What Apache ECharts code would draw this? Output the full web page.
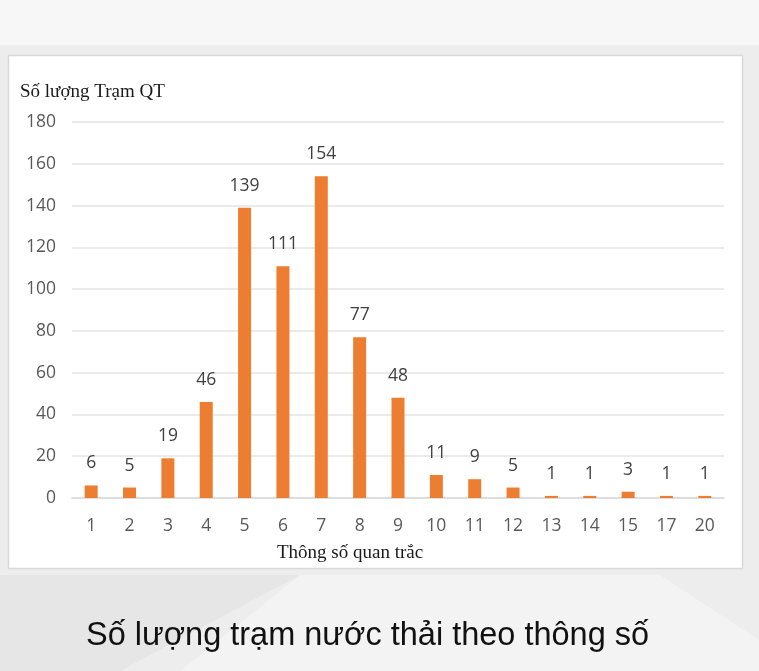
<!DOCTYPE html>
<html><head><meta charset="utf-8">
<script src="https://cdn.jsdelivr.net/npm/echarts@6/dist/echarts.min.js"></script>
<style>html,body{margin:0;padding:0;}#c{width:759px;height:671px;}</style>
</head><body><div id="c"></div>
<script>
var categories = ['1','2','3','4','5','6','7','8','9','10','11','12','13','14','15','17','20'];
var stationCounts = [6,5,19,46,139,111,154,77,48,11,9,5,1,1,3,1,1];
var yTicks = [0,20,40,60,80,100,120,140,160,180];

var chart = echarts.init(document.getElementById('c'));
chart.setOption({
  backgroundColor: '#ededed',
  animation: false,
  graphic: [
    {type:'polygon', z:-10, shape:{points:[[0,0],[759,0],[759,45],[0,45]]}, style:{fill:'#f7f7f7'}},
    {type:'polygon', z:-9, shape:{points:[[0,575],[300,575],[120,671],[0,671]]}, style:{fill:'#e6e6e6'}},
    {type:'polygon', z:-9, shape:{points:[[300,575],[660,575],[759,640],[759,671],[180,671]]}, style:{fill:'#f3f3f3'}},
    {type:'rect', z:-5, shape:{x:8.5,y:55.5,width:734,height:513}, style:{fill:'#ffffff', stroke:'#d9d9d9', lineWidth:1.5}},
    {type:'text', left:20, top:83, style:{text:'Số lượng Trạm QT', font:'19px "Liberation Serif"', fill:'#1a1a1a'}},
    {type:'text', left:277, top:544, style:{text:'Thông số quan trắc', font:'19px "Liberation Serif"', fill:'#1a1a1a'}},
    {type:'text', left:86, top:620, style:{text:'Số lượng trạm nước thải theo thông số', font:'32.5px "Liberation Sans"', fill:'#111111'}}
  ],
  grid: {left:72, right:35, top:122, bottom:173},
  xAxis: {
    type:'category', data:categories,
    axisLine:{lineStyle:{color:'#d9d9d9', width:1.5}},
    axisTick:{show:false},
    axisLabel:{color:'#595959', fontSize:17.5, fontFamily:'Open Sans', margin:19}
  },
  yAxis: {
    type:'value', min:yTicks[0], max:yTicks[yTicks.length-1], interval:20,
    axisLine:{show:false}, axisTick:{show:false},
    splitLine:{lineStyle:{color:'#e3e3e3', width:1.5}},
    axisLabel:{color:'#595959', fontSize:17.5, fontFamily:'Open Sans', margin:16}
  },
  series: [{
    type:'bar', data:stationCounts, barWidth:13,
    itemStyle:{color:'#ED7D31'},
    label:{show:true, position:'top', distance:13, color:'#404040', fontSize:17.5, fontFamily:'Open Sans'}
  }]
});
</script></body></html>
